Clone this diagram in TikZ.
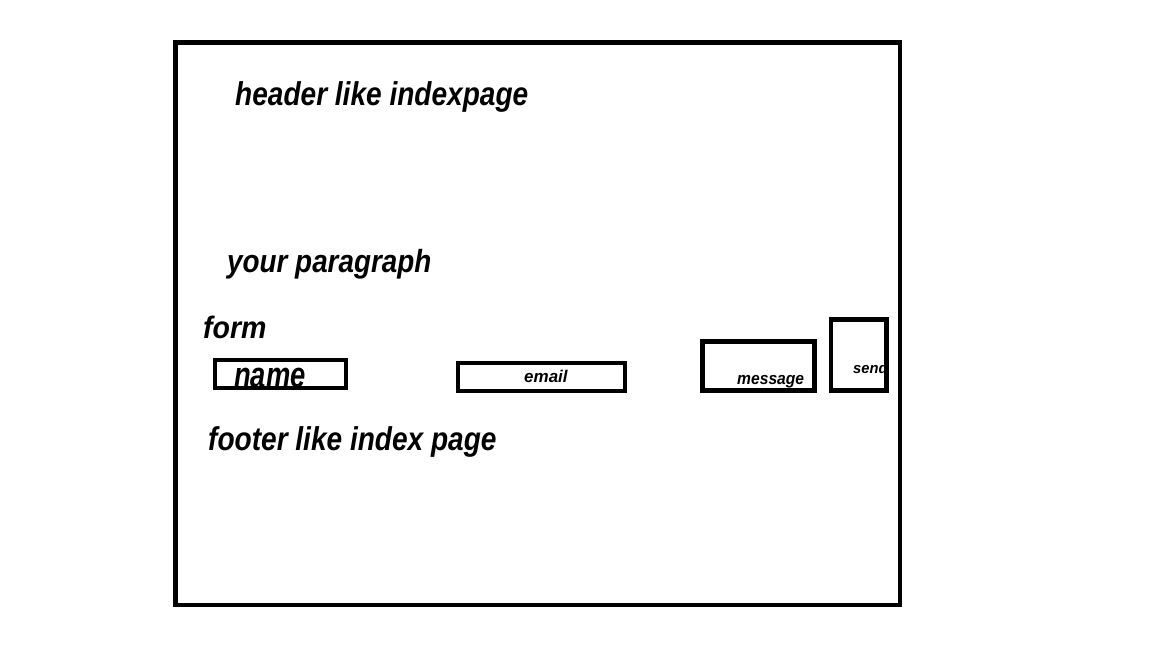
\documentclass[tikz,border=0pt]{standalone}
\usepackage{fontspec}
\newfontfamily\sketchfont{Liberation Sans}
% bold italic, narrowed by the given factor, at the given size
\newcommand\sketchtype[2]{\sketchfont\bfseries\itshape\fontsize{#2}{#2}\selectfont\addfontfeature{FakeStretch=#1}}
\begin{document}
\begin{tikzpicture}[x=1pt,y=-1pt,
  frameline/.style={draw=black,line width=4.5pt},
  fieldbox/.style={draw=black,line width=4.5pt,inner sep=0pt},
  label/.style={inner sep=0pt,anchor=base west}]
\useasboundingbox[fill=white] (0,0) rectangle (1152,648);
% page frame
\draw[frameline] (175.5,42.5) rectangle (900,605);
% headings
\node[label,font=\sketchtype{0.85}{33}] (header) at (235,105) {header like indexpage};
\node[label,font=\sketchtype{0.87}{32}] (para) at (227,272) {your paragraph};
\node[label,font=\sketchtype{0.92}{31}] (form) at (203,338) {form};
\node[label,font=\sketchtype{0.85}{33}] (footer) at (208,450) {footer like index page};
% form fields
\node[label,font=\sketchtype{0.76}{36}] (nametxt) at (234,387) {name};
\node[label,font=\sketchtype{1.0}{17}] (emailtxt) at (524,382) {email};
\node[label,font=\sketchtype{0.92}{17}] (msgtxt) at (737,384) {message};
\node[label,font=\sketchtype{0.98}{15}] (sendtxt) at (853,373) {send};
\node[fieldbox,minimum width=131pt,minimum height=28pt] (name) at (280.5,374) {};
\node[fieldbox,minimum width=167pt,minimum height=28pt] (email) at (541.5,377) {};
\node[fieldbox,minimum width=112pt,minimum height=49pt] (message) at (758.5,366) {};
\node[fieldbox,minimum width=55.5pt,minimum height=71pt] (send) at (858.75,355) {};
\end{tikzpicture}
\end{document}
